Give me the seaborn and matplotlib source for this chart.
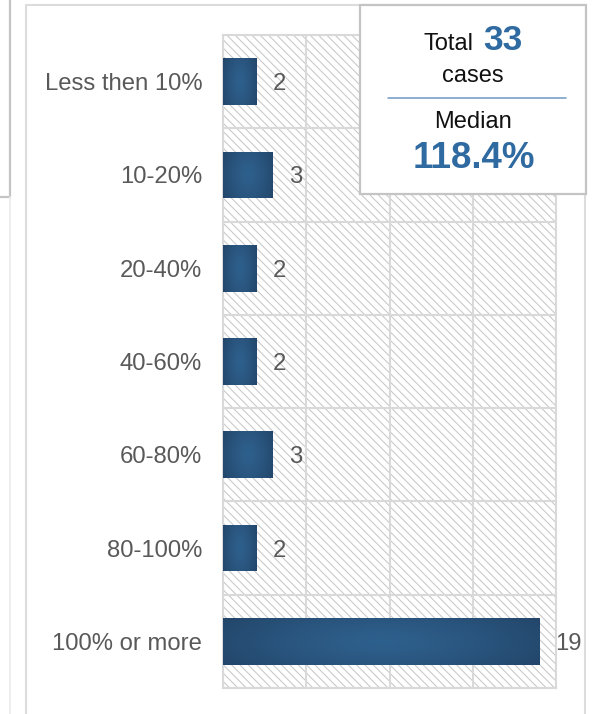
import numpy as np
import pandas as pd
import matplotlib
matplotlib.use("Agg")
import matplotlib.pyplot as plt
from matplotlib.patches import Rectangle
from matplotlib.lines import Line2D
import seaborn as sns

# Distribution of cases by range
categories = ["Less then 10%", "10-20%", "20-40%", "40-60%", "60-80%", "80-100%", "100% or more"]
counts = [2, 3, 2, 2, 3, 2, 19]
total_cases = 33
median_label = "118.4%"

W, H = 592, 714
sns.set_theme(style="white")
plt.rcParams["font.family"] = ["Liberation Sans", "DejaVu Sans"]
plt.rcParams["hatch.linewidth"] = 0.75

fig = plt.figure(figsize=(W / 100, H / 100), dpi=100)
fig.patch.set_facecolor("white")


def fx(x):
    return x / W


def fy(y):
    return 1 - y / H


ax = fig.add_axes([fx(223), fy(688), (556 - 223) / W, (688 - 35) / H])

df = pd.DataFrame({"range": categories, "cases": counts})
sns.barplot(data=df, x="cases", y="range", orient="h", color="#2a5580",
            width=0.5, ax=ax, zorder=3, saturation=1)
bars = list(ax.patches)

# hatched plot background
ax.set_facecolor("white")
bg = Rectangle((0, 0), 1, 1, transform=ax.transAxes, facecolor="white",
               edgecolor="#c8c8c8", hatch="\\\\\\\\", lw=0, zorder=0)
ax.add_patch(bg)

# shaded fill on each bar
edge_c = np.array([0x23, 0x46, 0x6a]) / 255
mid_c = np.array([0x2e, 0x60, 0x8d]) / 255
for patch in bars:
    x0, y0 = patch.get_x(), patch.get_y()
    w, h = patch.get_width(), patch.get_height()
    if w <= 0:
        continue
    nx, ny = 256, 64
    gx, gy = np.meshgrid(np.linspace(-1, 1, nx), np.linspace(-1, 1, ny))
    t = np.clip(np.sqrt(gx ** 2 + 0.35 * gy ** 2) / np.sqrt(1.35), 0, 1) ** 1.3
    img = mid_c[None, None, :] * (1 - t[..., None]) + edge_c[None, None, :] * t[..., None]
    im = ax.imshow(img, extent=[x0, x0 + w, y0 + h, y0], aspect="auto",
                   interpolation="bilinear", zorder=3.5)
    im.set_clip_path(patch)
    patch.set_edgecolor("none")

# value labels
for i, v in enumerate(counts):
    ax.annotate(str(v), xy=(v, i), xytext=(11.5, 0), textcoords="offset points",
                ha="left", va="center_baseline", fontsize=17.2, color="#595959",
                zorder=5)

ax.set_xlim(0, 20)
ax.set_ylim(len(categories) - 0.5, -0.5)
ax.set_xticks([0, 5, 10, 15, 20])
ax.set_xticklabels([])
ax.set_yticks(range(len(categories)))
ax.set_yticks(np.arange(-0.5, len(categories), 1), minor=True)
ax.tick_params(axis="both", which="both", length=0)
ax.tick_params(axis="y", labelsize=17.2, labelcolor="#595959", pad=15)
ax.set_xlabel("")
ax.set_ylabel("")
ax.grid(False)
ax.xaxis.grid(True, which="major", color="#d9d9d9", lw=1.5, zorder=1)
ax.yaxis.grid(True, which="minor", color="#d9d9d9", lw=1.5, zorder=1)
ax.set_axisbelow(True)
for s in ax.spines.values():
    s.set_visible(True)
    s.set_color("#d9d9d9")
    s.set_linewidth(1.5)


# panel outlines
def fig_line(xs, ys, color, lw, z=1):
    ln = Line2D([fx(x) for x in xs], [fy(y) for y in ys],
                color=color, lw=lw, transform=fig.transFigure, zorder=z)
    fig.add_artist(ln)
    return ln


fig_line([26, 26], [5, 714], "#dcdcdc", 1.5)
fig_line([26, 585], [5, 5], "#dcdcdc", 1.5)
fig_line([585, 585], [5, 714], "#dcdcdc", 1.5)
fig_line([9.5, 9.5], [0, 197], "#c4c4c4", 1.6)
fig_line([0, 9.5], [197, 197], "#c4c4c4", 1.6)
fig_line([9.5, 9.5], [197, 714], "#ebebeb", 1.2)

# summary box
fig.add_artist(Rectangle((fx(360), fy(194)), (586 - 360) / W, (194 - 5) / H,
                         transform=fig.transFigure, facecolor="white",
                         edgecolor="#c4c4c4", lw=1.6, zorder=10))
blue = "#2f6aa1"
fig.text(fx(474), fy(49.5), "Total", ha="right", va="baseline", fontsize=17,
         color="#111111", zorder=11)
fig.text(fx(483), fy(49.5), str(total_cases), ha="left", va="baseline",
         fontsize=25.5, fontweight="bold", color=blue, zorder=11)
fig.text(fx(473), fy(82), "cases", ha="center", va="baseline", fontsize=17,
         color="#111111", zorder=11)
fig_line([388, 566], [98.3, 98.3], "#6f98c4", 1.1, z=11)
fig.text(fx(473), fy(128.3), "Median", ha="center", va="baseline", fontsize=17,
         color="#111111", zorder=11)
fig.text(fx(474), fy(168.3), median_label, ha="center", va="baseline",
         fontsize=26.5, fontweight="bold", color=blue, zorder=11)

fig.savefig("out.png", dpi=100, facecolor="white")
